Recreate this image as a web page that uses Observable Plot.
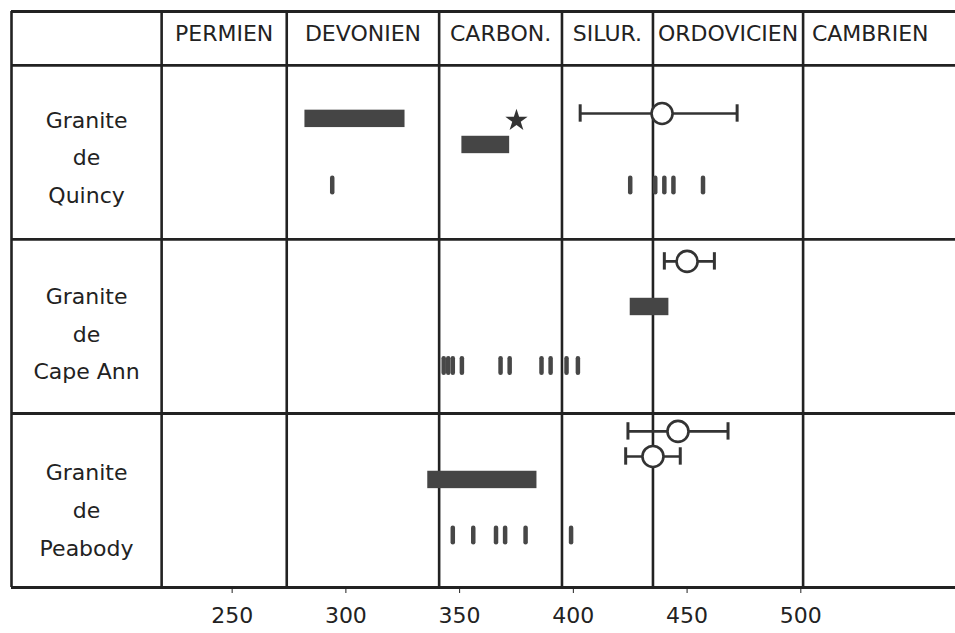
<!DOCTYPE html>
<html><head><meta charset="utf-8">
<script src="https://cdn.jsdelivr.net/npm/d3@7"></script>
<script src="https://cdn.jsdelivr.net/npm/@observablehq/plot@0.6"></script>
<style>html,body{margin:0;padding:0;background:#fff;}</style>
</head><body><div id="chart"></div>
<script>
// ---- data (ages in Ma) ----
const periods = ["PERMIEN", "DEVONIEN", "CARBON.", "SILUR.", "ORDOVICIEN", "CAMBRIEN"];
const periodEdges = [219, 274, 341, 395, 435, 501, 560];
const xTicks = [250, 300, 350, 400, 450, 500];
const granites = ["Quincy", "Cape Ann", "Peabody"];

// error bars with open circle
const errGranite = ["Quincy", "Cape Ann", "Peabody", "Peabody"];
const errLane = ["err1", "err1", "err1", "err2"];
const errCenter = [439, 450, 446, 435];
const errLow = [403, 440, 424, 423];
const errHigh = [472, 462, 468, 447];

// shaded range bars
const barGranite = ["Quincy", "Quincy", "Cape Ann", "Peabody"];
const barLane = ["bar1", "bar2", "bar1", "bar1"];
const barStart = [282, 351, 425, 336];
const barEnd = [326, 372, 442, 384];

// star
const starGranite = ["Quincy"];
const starAge = [375];

// individual dates
const datesQuincy = [294, 425, 436, 440, 444, 457];
const datesCapeAnn = [343, 345, 347, 351, 368, 372, 386, 390, 397, 402];
const datesPeabody = [347, 356, 366, 370, 379, 399];

// ---- layout (not data) ----
const ROW_H = 10, HEADER_TOP = -3.1, HEADER_Y = -1.81;
const laneOffset = {
  "Quincy":   {err1: 2.76, bar1: 3.07, star: 3.16, bar2: 4.57, dates: 6.9, label: 5.05},
  "Cape Ann": {err1: 1.26, bar1: 3.88, dates: 7.27, label: 5.17},
  "Peabody":  {err1: 1.03, err2: 2.47, bar1: 3.82, dates: 7.01, label: 5.3}
};
const laneY = (g, lane) => granites.indexOf(g) * ROW_H + laneOffset[g][lane];
const X0 = 153, X1 = 568;
const ink = "#222";

const errs = errGranite.map((g, i) => ({g, y: laneY(g, errLane[i]), c: errCenter[i], lo: errLow[i], hi: errHigh[i]}));
const bars = barGranite.map((g, i) => ({g, y: laneY(g, barLane[i]), x1: barStart[i], x2: barEnd[i]}));
const stars = starGranite.map((g, i) => ({g, y: laneY(g, "star"), x: starAge[i]}));
const dates = [
  ...datesQuincy.map(x => ({g: "Quincy", x})),
  ...datesCapeAnn.map(x => ({g: "Cape Ann", x})),
  ...datesPeabody.map(x => ({g: "Peabody", x}))
].map(d => ({...d, y: laneY(d.g, "dates")}));
const headers = periods.map((p, i) => ({p, x: (periodEdges[i] + periodEdges[i + 1]) / 2}));
const labels = granites.map(g => ({t: "Granite\nde\n" + g, y: laneY(g, "label"), x: (X0 + periodEdges[0]) / 2}));
const hLines = [HEADER_TOP, 0, ...granites.map((g, i) => (i + 1) * ROW_H)];
const vLines = [X0, ...periodEdges.slice(0, -1)];

const chart = Plot.plot({
  width: 955, height: 633,
  marginTop: 11, marginBottom: 46, marginLeft: 11, marginRight: 0,
  style: {fontFamily: "DejaVu Sans", fontSize: "22px", color: ink, background: "#fff"},
  x: {domain: [X0, X1]},
  y: {domain: [HEADER_TOP, granites.length * ROW_H], reverse: true, axis: null},
  marks: [
    Plot.ruleY(hLines, {stroke: ink, strokeWidth: 2.8}),
    Plot.ruleX(vLines, {stroke: ink, strokeWidth: 2.6}),
    Plot.text(headers, {x: "x", y: () => HEADER_Y, text: "p", fontSize: 22, fill: ink, lineAnchor: "middle"}),
    Plot.text(labels, {x: "x", y: "y", text: "t", fontSize: 22, fill: ink, lineAnchor: "middle", lineHeight: 1.72}),
    Plot.rect(bars, {x1: "x1", x2: "x2", y1: d => d.y - 0.5, y2: d => d.y + 0.5, fill: "#454545"}),
    Plot.ruleX(dates, {x: "x", y1: d => d.y - 0.42, y2: d => d.y + 0.42, stroke: "#474747", strokeWidth: 4.5, strokeLinecap: "round"}),
    Plot.ruleY(errs, {y: "y", x1: "lo", x2: "hi", stroke: "#333", strokeWidth: 2.6}),
    Plot.ruleX(errs, {x: "lo", y1: d => d.y - 0.5, y2: d => d.y + 0.5, stroke: "#333", strokeWidth: 3}),
    Plot.ruleX(errs, {x: "hi", y1: d => d.y - 0.5, y2: d => d.y + 0.5, stroke: "#333", strokeWidth: 3}),
    Plot.dot(errs, {x: "c", y: "y", r: 10.5, fill: "#fff", stroke: "#333", strokeWidth: 2.6}),
    Plot.dot(stars, {x: "x", y: "y", symbol: "star", r: 7, fill: "#333"}),
    Plot.axisX({ticks: xTicks, tickSize: 6, tickPadding: 14, fontSize: 22, label: null, stroke: ink, fill: ink})
  ]
});
document.getElementById("chart").appendChild(chart);
</script>
</body></html>
